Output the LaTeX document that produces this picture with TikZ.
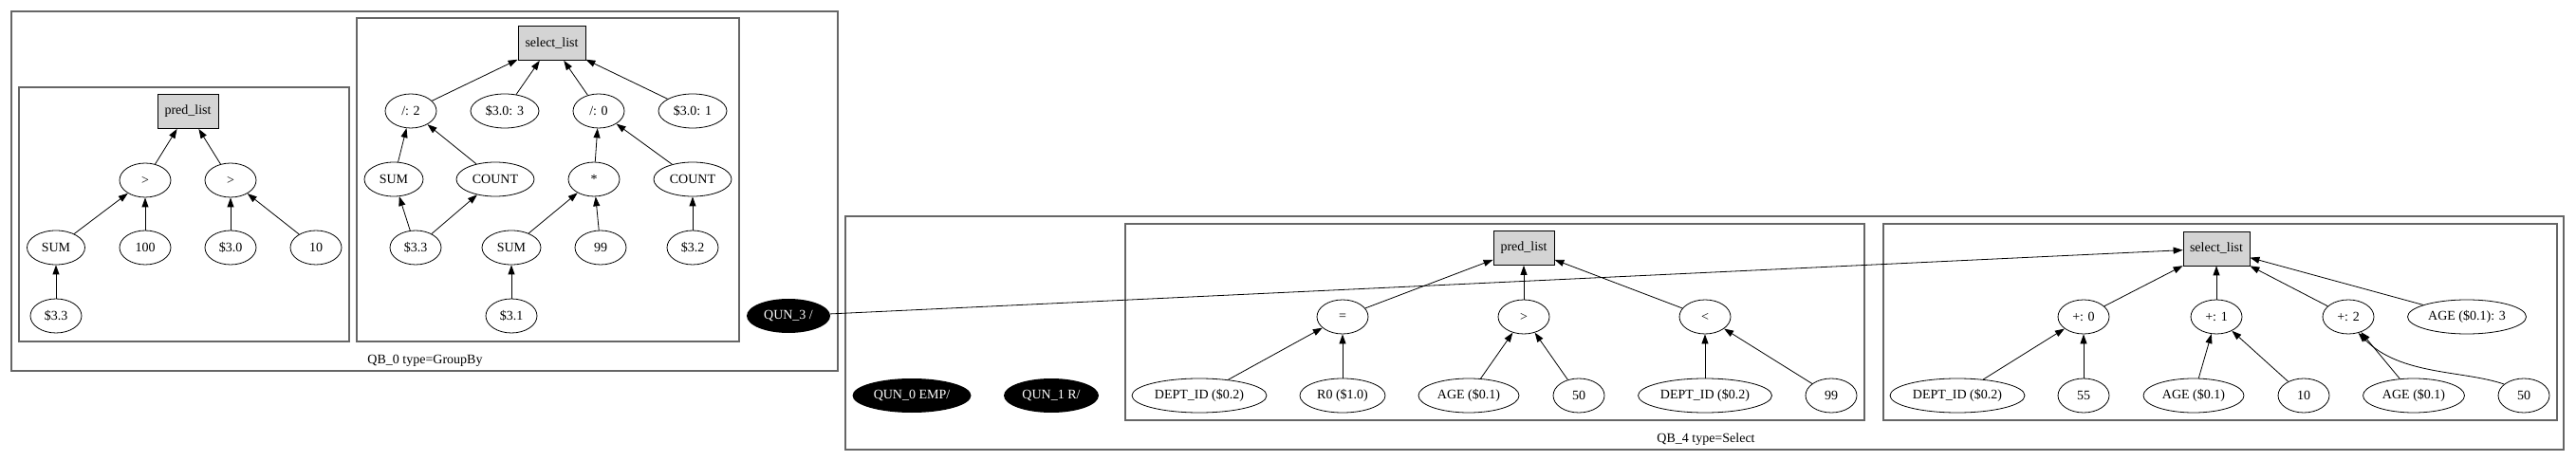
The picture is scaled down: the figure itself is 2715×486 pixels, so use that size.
\documentclass[tikz,border=0pt]{standalone}
\usepackage{fontspec}
\setmainfont{Liberation Serif}
\usetikzlibrary{shapes.geometric,arrows.meta}
\begin{document}
\begin{tikzpicture}[x=1pt,y=-1pt,
  every node/.style={font=\fontsize{14pt}{16pt}\selectfont},
  el/.style={ellipse, draw, line width=0.8pt, minimum height=36pt, minimum width=#1, inner sep=0pt},
  el/.default=54pt,
  lst/.style={rectangle, draw, line width=0.8pt, fill=black!17, minimum height=36pt, minimum width=#1, inner sep=0pt},
  qun/.style={ellipse, fill=black, text=white, minimum height=36pt, minimum width=#1, inner sep=0pt},
  cluster/.style={draw=black!60, line width=1.2pt},
  edge/.style={-{Triangle[length=10pt,width=7pt]}, line width=0.8pt},
  lbl/.style={inner sep=0pt}
]
\useasboundingbox (0,0) rectangle (2715,486);

% ---------- clusters ----------
\draw[cluster] (12,12) rectangle (883,391);
\draw[cluster] (20,92) rectangle (368,360);
\draw[cluster] (376,19) rectangle (779,360);
\node[lbl] (qb0lbl) at (448,380) {QB\_0 type=GroupBy};

\draw[cluster] (891,228) rectangle (2702,474);
\draw[cluster] (1186,236) rectangle (1965,443);
\draw[cluster] (1985,236) rectangle (2695,443);
\node[lbl] (qb4lbl) at (1798,463) {QB\_4 type=Select};

% ---------- QB_0 pred_list ----------
\node[lst=64pt] (pl0) at (198,117.5) {pred\_list};
\node[el] (gt1) at (153,190) {>};
\node[el] (gt2) at (243,190) {>};
\node[el=61pt] (sumA) at (59,261) {SUM};
\node[el] (c100) at (153,261) {100};
\node[el] (s30) at (243,261) {\$3.0};
\node[el] (c10a) at (333,261) {10};
\node[el] (s33a) at (59,333) {\$3.3};

\draw[edge] (gt1) -- (pl0);
\draw[edge] (gt2) -- (pl0);
\draw[edge] (sumA) -- (gt1);
\draw[edge] (c100) -- (gt1);
\draw[edge] (s30) -- (gt2);
\draw[edge] (c10a) -- (gt2);
\draw[edge] (s33a) -- (sumA);

% ---------- QB_0 select_list ----------
\node[lst=71pt] (sl0) at (581.5,45.5) {select\_list};
\node[el] (div2) at (433,117) {/: 2};
\node[el=72pt] (s303) at (532,117) {\$3.0: 3};
\node[el] (div0) at (631,117) {/: 0};
\node[el=72pt] (s301) at (730,117) {\$3.0: 1};
\node[el=62pt] (sumB) at (415,189) {SUM};
\node[el=82pt] (cntA) at (522,189) {COUNT};
\node[el] (mul) at (626,189) {*};
\node[el=82pt] (cntB) at (730,189) {COUNT};
\node[el] (s33b) at (438,261) {\$3.3};
\node[el=62pt] (sumC) at (539,261) {SUM};
\node[el] (c99a) at (633,261) {99};
\node[el] (s32) at (730,261) {\$3.2};
\node[el] (s31) at (539,333) {\$3.1};

\draw[edge] (div2) -- (sl0);
\draw[edge] (s303) -- (sl0);
\draw[edge] (div0) -- (sl0);
\draw[edge] (s301) -- (sl0);
\draw[edge] (sumB) -- (div2);
\draw[edge] (cntA) -- (div2);
\draw[edge] (s33b) -- (sumB);
\draw[edge] (s33b) -- (cntA);
\draw[edge] (mul) -- (div0);
\draw[edge] (cntB) -- (div0);
\draw[edge] (sumC) -- (mul);
\draw[edge] (c99a) -- (mul);
\draw[edge] (s31) -- (sumC);
\draw[edge] (s32) -- (cntB);

\node[qun=88pt] (qun3) at (831,333) {QUN\_3 /};

% ---------- QB_4 ----------
\node[qun=125pt] (qun0) at (961,417) {QUN\_0 EMP/};
\node[qun=100pt] (qun1) at (1108,417) {QUN\_1 R/};

% pred_list
\node[lst=64pt] (pl4) at (1606,261.5) {pred\_list};
\node[el] (eq) at (1415,334) {=};
\node[el] (gt4) at (1606,334) {>};
\node[el] (lt4) at (1797,334) {<};
\node[el=142pt] (deptA) at (1264,417) {DEPT\_ID (\$0.2)};
\node[el=90pt] (r0) at (1415,417) {R0 (\$1.0)};
\node[el=106pt] (ageA) at (1548,417) {AGE (\$0.1)};
\node[el] (c50a) at (1664,417) {50};
\node[el=141pt] (deptB) at (1797,417) {DEPT\_ID (\$0.2)};
\node[el] (c99b) at (1930,417) {99};

\draw[edge] (eq) -- (pl4);
\draw[edge] (gt4) -- (pl4);
\draw[edge] (lt4) -- (pl4);
\draw[edge] (deptA) -- (eq);
\draw[edge] (r0) -- (eq);
\draw[edge] (ageA) -- (gt4);
\draw[edge] (c50a) -- (gt4);
\draw[edge] (deptB) -- (lt4);
\draw[edge] (c99b) -- (lt4);

% select_list
\node[lst=70pt] (sl4) at (2336,262) {select\_list};
\node[el] (p0) at (2196,334) {+: 0};
\node[el] (p1) at (2336,334) {+: 1};
\node[el] (p2) at (2475,334) {+: 2};
\node[el=125pt] (age3) at (2600,334) {AGE (\$0.1): 3};
\node[el=142pt] (deptC) at (2063,417) {DEPT\_ID (\$0.2)};
\node[el] (c55) at (2196,417) {55};
\node[el=106pt] (ageB) at (2312,417) {AGE (\$0.1)};
\node[el] (c10b) at (2428,417) {10};
\node[el=107pt] (ageC) at (2544,417) {AGE (\$0.1)};
\node[el] (c50b) at (2660,417) {50};

\draw[edge] (p0) -- (sl4);
\draw[edge] (p1) -- (sl4);
\draw[edge] (p2) -- (sl4);
\draw[edge] (age3) -- (sl4);
\draw[edge] (deptC) -- (p0);
\draw[edge] (c55) -- (p0);
\draw[edge] (ageB) -- (p1);
\draw[edge] (c10b) -- (p1);
\draw[edge] (ageC) -- (p2);
\draw[edge] (c50b.150) .. controls (2595,390) and (2530,396) .. (p2.-58);

% cross-cluster edge
\draw[edge] (qun3) -- (sl4);
\end{tikzpicture}
\end{document}
